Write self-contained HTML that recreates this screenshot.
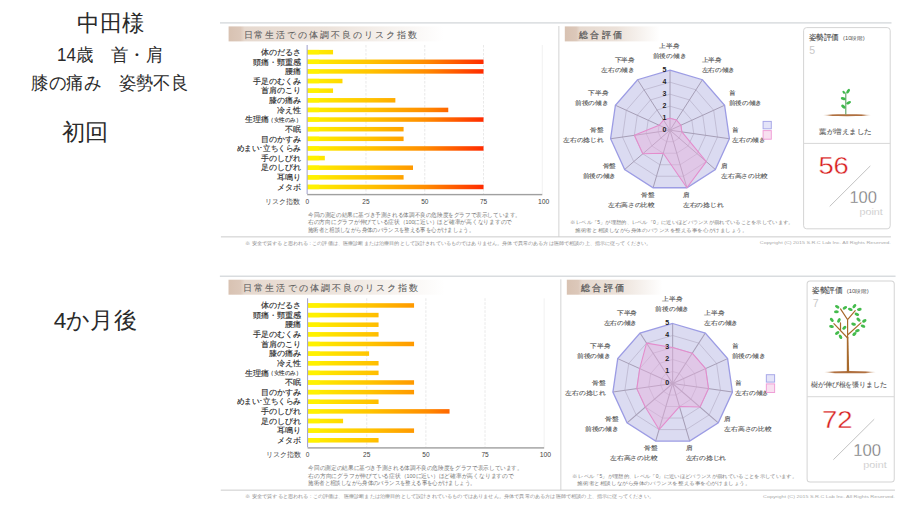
<!DOCTYPE html>
<html><head><meta charset="utf-8"><style>
html,body{margin:0;padding:0;background:#fff;}
body{width:920px;height:518px;overflow:hidden;font-family:"Liberation Sans", sans-serif;}
svg{display:block;font-family:"Liberation Sans", sans-serif;}
</style></head><body>
<svg width="920" height="518" viewBox="0 0 920 518">
<defs><linearGradient id="gr" x1="0" x2="1" y1="0" y2="0"><stop offset="0" stop-color="#b88050" stop-opacity="0"/><stop offset="0.2" stop-color="#b07040"/><stop offset="0.8" stop-color="#b07040"/><stop offset="1" stop-color="#b88050" stop-opacity="0"/></linearGradient><linearGradient id="bg1" gradientUnits="userSpaceOnUse" x1="307" y1="0" x2="484" y2="0">
<stop offset="0" stop-color="#fff200"/><stop offset="0.08" stop-color="#ffe800"/><stop offset="0.35" stop-color="#ffc400"/><stop offset="0.67" stop-color="#ff8c00"/><stop offset="1" stop-color="#ff2a00"/></linearGradient>
<linearGradient id="tg1" x1="0" y1="0" x2="1" y2="0"><stop offset="0" stop-color="#d8c2b2"/><stop offset="0.055" stop-color="#dcc8ba"/><stop offset="0.075" stop-color="#e6d9cf"/><stop offset="0.45" stop-color="#ece2da"/><stop offset="1" stop-color="#ffffff"/></linearGradient>
<linearGradient id="tg21" x1="0" y1="0" x2="1" y2="0"><stop offset="0" stop-color="#d8c2b2"/><stop offset="0.12" stop-color="#dcc8ba"/><stop offset="0.16" stop-color="#e6d9cf"/><stop offset="0.55" stop-color="#ece2da"/><stop offset="1" stop-color="#ffffff"/></linearGradient><linearGradient id="bg2" gradientUnits="userSpaceOnUse" x1="307" y1="0" x2="484" y2="0">
<stop offset="0" stop-color="#fff200"/><stop offset="0.08" stop-color="#ffe800"/><stop offset="0.35" stop-color="#ffc400"/><stop offset="0.67" stop-color="#ff8c00"/><stop offset="1" stop-color="#ff2a00"/></linearGradient>
<linearGradient id="tg2" x1="0" y1="0" x2="1" y2="0"><stop offset="0" stop-color="#d8c2b2"/><stop offset="0.055" stop-color="#dcc8ba"/><stop offset="0.075" stop-color="#e6d9cf"/><stop offset="0.45" stop-color="#ece2da"/><stop offset="1" stop-color="#ffffff"/></linearGradient>
<linearGradient id="tg22" x1="0" y1="0" x2="1" y2="0"><stop offset="0" stop-color="#d8c2b2"/><stop offset="0.12" stop-color="#dcc8ba"/><stop offset="0.16" stop-color="#e6d9cf"/><stop offset="0.55" stop-color="#ece2da"/><stop offset="1" stop-color="#ffffff"/></linearGradient></defs>
<rect width="920" height="518" fill="#fff"/>
<text x="111.00" y="31.00" font-size="22.6" fill="#2a2a2a" text-anchor="middle" textLength="67.5" lengthAdjust="spacingAndGlyphs">中田様</text><text x="110.00" y="61.20" font-size="17.6" fill="#2a2a2a" text-anchor="middle" textLength="106" lengthAdjust="spacingAndGlyphs">14歳　首・肩</text><text x="109.80" y="89.20" font-size="17.6" fill="#2a2a2a" text-anchor="middle" textLength="157" lengthAdjust="spacingAndGlyphs">膝の痛み　姿勢不良</text><text x="85.40" y="139.60" font-size="23" fill="#2a2a2a" text-anchor="middle" textLength="46.5" lengthAdjust="spacingAndGlyphs">初回</text><text x="95.20" y="328.30" font-size="22.5" fill="#2a2a2a" text-anchor="middle" textLength="83" lengthAdjust="spacingAndGlyphs">4か月後</text>
<g transform="translate(0.000,0) scale(1.0,1)">
<rect x="220" y="22.3" width="671.5" height="1.2" fill="#d0d4d8"/>
<rect x="228.6" y="26.4" width="215" height="15" fill="url(#tg1)"/>
<text x="243.50" y="37.90" font-size="8.7" fill="#5e5e5e" textLength="173" lengthAdjust="spacing" stroke="#5e5e5e" stroke-width="0.08">日常生活での体調不良のリスク指数</text>
<rect x="564.8" y="26.4" width="95" height="15" fill="url(#tg21)"/>
<text x="578.80" y="37.60" font-size="9.2" fill="#5a5a5a" textLength="43.2" lengthAdjust="spacing" stroke="#5a5a5a" stroke-width="0.25">総合評価</text>
<rect x="558.3" y="26" width="1.1" height="211" fill="#d8d8d8"/>
<line x1="365.97" y1="45" x2="365.97" y2="194" stroke="#e2e2e2" stroke-width="0.8" stroke-dasharray="2.5,1.5"/>
<line x1="424.75" y1="45" x2="424.75" y2="194" stroke="#e2e2e2" stroke-width="0.8" stroke-dasharray="2.5,1.5"/>
<line x1="483.52" y1="45" x2="483.52" y2="194" stroke="#e2e2e2" stroke-width="0.8" stroke-dasharray="2.5,1.5"/>
<line x1="542.30" y1="45" x2="542.30" y2="194" stroke="#eeeeee" stroke-width="0.8"/>
<rect x="307.2" y="49.90" width="25.86" height="4.5" fill="url(#bg1)"/>
<rect x="307.2" y="49.90" width="12.00" height="4.5" fill="#fff200" opacity="0.8"/>
<text x="300.70" y="54.90" font-size="8.3" fill="#262626" text-anchor="end" textLength="40" lengthAdjust="spacingAndGlyphs" stroke="#262626" stroke-width="0.12">体のだるさ</text>
<rect x="307.2" y="59.53" width="176.32" height="4.5" fill="url(#bg1)"/>
<rect x="307.2" y="59.53" width="12.00" height="4.5" fill="#fff200" opacity="0.8"/>
<text x="300.70" y="64.53" font-size="8.3" fill="#262626" text-anchor="end" textLength="48" lengthAdjust="spacingAndGlyphs" stroke="#262626" stroke-width="0.12">頭痛・頸重感</text>
<rect x="307.2" y="69.16" width="176.32" height="4.5" fill="url(#bg1)"/>
<rect x="307.2" y="69.16" width="12.00" height="4.5" fill="#fff200" opacity="0.8"/>
<text x="300.70" y="74.16" font-size="8.3" fill="#262626" text-anchor="end" textLength="16" lengthAdjust="spacingAndGlyphs" stroke="#262626" stroke-width="0.12">腰痛</text>
<rect x="307.2" y="78.79" width="35.27" height="4.5" fill="url(#bg1)"/>
<rect x="307.2" y="78.79" width="12.00" height="4.5" fill="#fff200" opacity="0.8"/>
<text x="300.70" y="83.79" font-size="8.3" fill="#262626" text-anchor="end" textLength="48" lengthAdjust="spacingAndGlyphs" stroke="#262626" stroke-width="0.12">手足のむくみ</text>
<rect x="307.2" y="88.42" width="25.86" height="4.5" fill="url(#bg1)"/>
<rect x="307.2" y="88.42" width="12.00" height="4.5" fill="#fff200" opacity="0.8"/>
<text x="300.70" y="93.42" font-size="8.3" fill="#262626" text-anchor="end" textLength="40" lengthAdjust="spacingAndGlyphs" stroke="#262626" stroke-width="0.12">首肩のこり</text>
<rect x="307.2" y="98.05" width="88.16" height="4.5" fill="url(#bg1)"/>
<rect x="307.2" y="98.05" width="12.00" height="4.5" fill="#fff200" opacity="0.8"/>
<text x="300.70" y="103.05" font-size="8.3" fill="#262626" text-anchor="end" textLength="32" lengthAdjust="spacingAndGlyphs" stroke="#262626" stroke-width="0.12">膝の痛み</text>
<rect x="307.2" y="107.68" width="141.06" height="4.5" fill="url(#bg1)"/>
<rect x="307.2" y="107.68" width="12.00" height="4.5" fill="#fff200" opacity="0.8"/>
<text x="300.70" y="112.68" font-size="8.3" fill="#262626" text-anchor="end" textLength="24" lengthAdjust="spacingAndGlyphs" stroke="#262626" stroke-width="0.12">冷え性</text>
<rect x="307.2" y="117.31" width="176.32" height="4.5" fill="url(#bg1)"/>
<rect x="307.2" y="117.31" width="12.00" height="4.5" fill="#fff200" opacity="0.8"/>
<text x="268.60" y="122.31" font-size="8.3" fill="#262626" text-anchor="end" textLength="24" lengthAdjust="spacingAndGlyphs" stroke="#262626" stroke-width="0.12">生理痛</text>
<text x="301.20" y="122.11" font-size="5.6" fill="#444" text-anchor="end" textLength="33" lengthAdjust="spacingAndGlyphs" stroke="#444" stroke-width="0.15">（女性のみ）</text>
<rect x="307.2" y="126.94" width="96.39" height="4.5" fill="url(#bg1)"/>
<rect x="307.2" y="126.94" width="12.00" height="4.5" fill="#fff200" opacity="0.8"/>
<text x="300.70" y="131.94" font-size="8.3" fill="#262626" text-anchor="end" textLength="16" lengthAdjust="spacingAndGlyphs" stroke="#262626" stroke-width="0.12">不眠</text>
<rect x="307.2" y="136.57" width="96.39" height="4.5" fill="url(#bg1)"/>
<rect x="307.2" y="136.57" width="12.00" height="4.5" fill="#fff200" opacity="0.8"/>
<text x="300.70" y="141.57" font-size="8.3" fill="#262626" text-anchor="end" textLength="40" lengthAdjust="spacingAndGlyphs" stroke="#262626" stroke-width="0.12">目のかすみ</text>
<rect x="307.2" y="146.20" width="176.32" height="4.5" fill="url(#bg1)"/>
<rect x="307.2" y="146.20" width="12.00" height="4.5" fill="#fff200" opacity="0.8"/>
<text x="300.70" y="151.20" font-size="8.3" fill="#262626" text-anchor="end" textLength="64" lengthAdjust="spacingAndGlyphs" stroke="#262626" stroke-width="0.12">めまい･立ちくらみ</text>
<rect x="307.2" y="155.83" width="17.63" height="4.5" fill="url(#bg1)"/>
<rect x="307.2" y="155.83" width="12.00" height="4.5" fill="#fff200" opacity="0.8"/>
<text x="300.70" y="160.83" font-size="8.3" fill="#262626" text-anchor="end" textLength="40" lengthAdjust="spacingAndGlyphs" stroke="#262626" stroke-width="0.12">手のしびれ</text>
<rect x="307.2" y="165.46" width="105.80" height="4.5" fill="url(#bg1)"/>
<rect x="307.2" y="165.46" width="12.00" height="4.5" fill="#fff200" opacity="0.8"/>
<text x="300.70" y="170.46" font-size="8.3" fill="#262626" text-anchor="end" textLength="40" lengthAdjust="spacingAndGlyphs" stroke="#262626" stroke-width="0.12">足のしびれ</text>
<rect x="307.2" y="175.09" width="96.39" height="4.5" fill="url(#bg1)"/>
<rect x="307.2" y="175.09" width="12.00" height="4.5" fill="#fff200" opacity="0.8"/>
<text x="300.70" y="180.09" font-size="8.3" fill="#262626" text-anchor="end" textLength="24" lengthAdjust="spacingAndGlyphs" stroke="#262626" stroke-width="0.12">耳鳴り</text>
<rect x="307.2" y="184.72" width="176.32" height="4.5" fill="url(#bg1)"/>
<rect x="307.2" y="184.72" width="12.00" height="4.5" fill="#fff200" opacity="0.8"/>
<text x="300.70" y="189.72" font-size="8.3" fill="#262626" text-anchor="end" textLength="24" lengthAdjust="spacingAndGlyphs" stroke="#262626" stroke-width="0.12">メタボ</text>
<rect x="306.59999999999997" y="45" width="1.1" height="149" fill="#a8a8d0"/>
<rect x="307.2" y="193.9" width="235.10" height="1.4" fill="#a0a0a0"/>
<text x="307.20" y="203.60" font-size="6.5" fill="#444" text-anchor="middle">0</text>
<text x="365.97" y="203.60" font-size="6.5" fill="#444" text-anchor="middle">25</text>
<text x="424.75" y="203.60" font-size="6.5" fill="#444" text-anchor="middle">50</text>
<text x="483.52" y="203.60" font-size="6.5" fill="#444" text-anchor="middle">75</text>
<text x="543.60" y="203.60" font-size="6.8" fill="#444" text-anchor="middle">100</text>
<text x="300.30" y="203.80" font-size="7" fill="#444" text-anchor="end">リスク指数</text>
<text x="308.00" y="216.60" font-size="5.6" fill="#777" textLength="213" lengthAdjust="spacingAndGlyphs">今回の測定の結果に基づき予測される体調不良の危険度をグラフで表示しています。</text>
<text x="308.00" y="224.40" font-size="5.6" fill="#777" textLength="204" lengthAdjust="spacingAndGlyphs">右の方向にグラフが伸びている症状（100に近い）ほど確率が高くなりますので</text>
<text x="308.00" y="232.20" font-size="5.6" fill="#777" textLength="166" lengthAdjust="spacingAndGlyphs">施術者と相談しながら身体のバランスを整える事を心がけましょう。</text>
<rect x="220.9" y="236.3" width="670" height="1.1" fill="#d0d0d0"/>
<text x="245.30" y="244.60" font-size="4.6" fill="#888" textLength="406" lengthAdjust="spacingAndGlyphs">※ 安全で質すると思われる : この評価は、医療診断または治療目的として設計されているものではありません。身体で異常のある方は医師で相談の上、指示に従ってください。</text>
<text x="890.80" y="244.40" font-size="4.4" fill="#aaa" text-anchor="end" textLength="131" lengthAdjust="spacingAndGlyphs">Copyright (C) 2015 S.R.C Lab Inc. All Rights Reserved.</text>
<polygon points="670.00,70.20 702.44,79.72 724.58,105.28 729.39,138.74 715.34,169.49 686.90,187.77 653.10,187.77 624.66,169.49 610.61,138.74 615.42,105.28 637.56,79.72" fill="#dbdbf1" stroke="none"/>
<polygon points="670.00,118.20 676.49,120.10 680.92,125.22 681.88,131.91 679.07,138.06 673.38,141.71 666.62,141.71 660.93,138.06 658.12,131.91 659.08,125.22 663.51,120.10" fill="none" stroke="#bdb8d0" stroke-width="0.85"/>
<polygon points="670.00,106.20 682.98,110.01 691.83,120.23 693.76,133.62 688.14,145.92 676.76,153.23 663.24,153.23 651.86,145.92 646.24,133.62 648.17,120.23 657.02,110.01" fill="none" stroke="#bdb8d0" stroke-width="0.85"/>
<polygon points="670.00,94.20 689.46,99.91 702.75,115.25 705.63,135.32 697.21,153.77 680.14,164.74 659.86,164.74 642.79,153.77 634.37,135.32 637.25,115.25 650.54,99.91" fill="none" stroke="#bdb8d0" stroke-width="0.85"/>
<polygon points="670.00,82.20 695.95,89.82 713.66,110.26 717.51,137.03 706.28,161.63 683.52,176.26 656.48,176.26 633.72,161.63 622.49,137.03 626.34,110.26 644.05,89.82" fill="none" stroke="#bdb8d0" stroke-width="0.85"/>
<line x1="670.0" y1="130.2" x2="670.00" y2="70.20" stroke="#a69eb6" stroke-width="1.0"/>
<line x1="670.0" y1="130.2" x2="702.44" y2="79.72" stroke="#a69eb6" stroke-width="1.0"/>
<line x1="670.0" y1="130.2" x2="724.58" y2="105.28" stroke="#a69eb6" stroke-width="1.0"/>
<line x1="670.0" y1="130.2" x2="729.39" y2="138.74" stroke="#a69eb6" stroke-width="1.0"/>
<line x1="670.0" y1="130.2" x2="715.34" y2="169.49" stroke="#a69eb6" stroke-width="1.0"/>
<line x1="670.0" y1="130.2" x2="686.90" y2="187.77" stroke="#a69eb6" stroke-width="1.0"/>
<line x1="670.0" y1="130.2" x2="653.10" y2="187.77" stroke="#a69eb6" stroke-width="1.0"/>
<line x1="670.0" y1="130.2" x2="624.66" y2="169.49" stroke="#a69eb6" stroke-width="1.0"/>
<line x1="670.0" y1="130.2" x2="610.61" y2="138.74" stroke="#a69eb6" stroke-width="1.0"/>
<line x1="670.0" y1="130.2" x2="615.42" y2="105.28" stroke="#a69eb6" stroke-width="1.0"/>
<line x1="670.0" y1="130.2" x2="637.56" y2="79.72" stroke="#a69eb6" stroke-width="1.0"/>
<polygon points="670.00,70.20 702.44,79.72 724.58,105.28 729.39,138.74 715.34,169.49 686.90,187.77 653.10,187.77 624.66,169.49 610.61,138.74 615.42,105.28 637.56,79.72" fill="none" stroke="#9c9ce4" stroke-width="1.3"/>
<polygon points="670.00,118.20 676.49,120.10 680.92,125.22 681.88,131.91 706.28,161.63 686.90,187.77 663.24,153.23 642.79,153.77 634.37,135.32 659.08,125.22 663.51,120.10" fill="#e6b0dc" fill-opacity="0.45" stroke="#e48ccc" stroke-width="1.05" stroke-linejoin="round"/>
<text x="666.50" y="131.90" font-size="7" fill="#222" text-anchor="end" font-weight="bold">0</text>
<text x="666.50" y="119.90" font-size="7" fill="#222" text-anchor="end" font-weight="bold">1</text>
<text x="666.50" y="107.90" font-size="7" fill="#222" text-anchor="end" font-weight="bold">2</text>
<text x="666.50" y="95.90" font-size="7" fill="#222" text-anchor="end" font-weight="bold">3</text>
<text x="666.50" y="83.90" font-size="7" fill="#222" text-anchor="end" font-weight="bold">4</text>
<text x="666.50" y="71.90" font-size="7" fill="#222" text-anchor="end" font-weight="bold">5</text>
<text x="669.50" y="48.10" font-size="6.4" fill="#555" text-anchor="middle" textLength="20.1" lengthAdjust="spacingAndGlyphs" stroke="#555" stroke-width="0.12">上半身</text>
<text x="669.50" y="57.90" font-size="6.4" fill="#555" text-anchor="middle" textLength="33.5" lengthAdjust="spacingAndGlyphs" stroke="#555" stroke-width="0.12">前後の傾き</text>
<text x="701.50" y="61.80" font-size="6.4" fill="#555" textLength="20.1" lengthAdjust="spacingAndGlyphs" stroke="#555" stroke-width="0.12">上半身</text>
<text x="701.50" y="71.60" font-size="6.4" fill="#555" textLength="33.5" lengthAdjust="spacingAndGlyphs" stroke="#555" stroke-width="0.12">左右の傾き</text>
<text x="728.70" y="95.00" font-size="6.4" fill="#555" textLength="6.7" lengthAdjust="spacingAndGlyphs" stroke="#555" stroke-width="0.12">首</text>
<text x="728.70" y="104.80" font-size="6.4" fill="#555" textLength="33.5" lengthAdjust="spacingAndGlyphs" stroke="#555" stroke-width="0.12">前後の傾き</text>
<text x="732.40" y="132.00" font-size="6.4" fill="#555" textLength="6.7" lengthAdjust="spacingAndGlyphs" stroke="#555" stroke-width="0.12">首</text>
<text x="732.40" y="141.80" font-size="6.4" fill="#555" textLength="33.5" lengthAdjust="spacingAndGlyphs" stroke="#555" stroke-width="0.12">左右の傾き</text>
<text x="721.30" y="168.20" font-size="6.4" fill="#555" textLength="6.7" lengthAdjust="spacingAndGlyphs" stroke="#555" stroke-width="0.12">肩</text>
<text x="721.30" y="178.00" font-size="6.4" fill="#555" textLength="46.9" lengthAdjust="spacingAndGlyphs" stroke="#555" stroke-width="0.12">左右高さの比較</text>
<text x="683.00" y="196.90" font-size="6.4" fill="#555" textLength="6.7" lengthAdjust="spacingAndGlyphs" stroke="#555" stroke-width="0.12">肩</text>
<text x="683.00" y="206.70" font-size="6.4" fill="#555" textLength="40.2" lengthAdjust="spacingAndGlyphs" stroke="#555" stroke-width="0.12">左右の捻じれ</text>
<text x="654.80" y="196.90" font-size="6.4" fill="#555" text-anchor="end" textLength="13.4" lengthAdjust="spacingAndGlyphs" stroke="#555" stroke-width="0.12">骨盤</text>
<text x="654.80" y="206.70" font-size="6.4" fill="#555" text-anchor="end" textLength="46.9" lengthAdjust="spacingAndGlyphs" stroke="#555" stroke-width="0.12">左右高さの比較</text>
<text x="616.20" y="168.20" font-size="6.4" fill="#555" text-anchor="end" textLength="13.4" lengthAdjust="spacingAndGlyphs" stroke="#555" stroke-width="0.12">骨盤</text>
<text x="616.20" y="178.00" font-size="6.4" fill="#555" text-anchor="end" textLength="33.5" lengthAdjust="spacingAndGlyphs" stroke="#555" stroke-width="0.12">前後の傾き</text>
<text x="603.50" y="132.00" font-size="6.4" fill="#555" text-anchor="end" textLength="13.4" lengthAdjust="spacingAndGlyphs" stroke="#555" stroke-width="0.12">骨盤</text>
<text x="603.50" y="141.80" font-size="6.4" fill="#555" text-anchor="end" textLength="40.2" lengthAdjust="spacingAndGlyphs" stroke="#555" stroke-width="0.12">左右の捻じれ</text>
<text x="608.40" y="95.00" font-size="6.4" fill="#555" text-anchor="end" textLength="20.1" lengthAdjust="spacingAndGlyphs" stroke="#555" stroke-width="0.12">下半身</text>
<text x="608.40" y="104.80" font-size="6.4" fill="#555" text-anchor="end" textLength="33.5" lengthAdjust="spacingAndGlyphs" stroke="#555" stroke-width="0.12">前後の傾き</text>
<text x="634.80" y="61.80" font-size="6.4" fill="#555" text-anchor="end" textLength="20.1" lengthAdjust="spacingAndGlyphs" stroke="#555" stroke-width="0.12">下半身</text>
<text x="634.80" y="71.60" font-size="6.4" fill="#555" text-anchor="end" textLength="33.5" lengthAdjust="spacingAndGlyphs" stroke="#555" stroke-width="0.12">左右の傾き</text>
<rect x="763.1" y="121.4" width="8.2" height="7.4" fill="#e4e4f8" stroke="#a8a8e8" stroke-width="1"/>
<rect x="763.1" y="130.6" width="8.2" height="8.6" fill="#f8e0f0" stroke="#f0a0d8" stroke-width="1"/>
<text x="569.50" y="224.30" font-size="4.7" fill="#777" textLength="224" lengthAdjust="spacingAndGlyphs">※ レベル「5」が理想的、レベル「0」に近いほどバランスが崩れていることを示しています。</text>
<text x="575.40" y="231.80" font-size="4.7" fill="#777" textLength="172" lengthAdjust="spacingAndGlyphs">施術者と相談しながら身体のバランスを整える事を心がけましょう。</text>
<rect x="803.6" y="27.6" width="86.6" height="201.2" rx="3" fill="#fff" stroke="#d4d4d4" stroke-width="1"/>
<rect x="803.6" y="142.9" width="86.6" height="1" fill="#d8d8d8"/>
<text x="808.60" y="40.00" font-size="7.6" fill="#444" textLength="30.5" lengthAdjust="spacingAndGlyphs" stroke="#444" stroke-width="0.08">姿勢評価</text>
<text x="843.00" y="39.60" font-size="5.2" fill="#555" textLength="21.8" lengthAdjust="spacingAndGlyphs">(10段階)</text>
<text x="809.30" y="53.60" font-size="10.5" fill="#c8c8c8">5</text>
<g><ellipse cx="847" cy="115.2" rx="24" ry="1.0" fill="url(#gr)"/><path d="M845.8 114.6 L845.8 92.5" stroke="#5aa060" stroke-width="1.1"/><ellipse cx="843.8" cy="92.2" rx="1.7" ry="1.1" transform="rotate(50 843.8 92.2)" fill="#3fb84c"/><ellipse cx="848.1" cy="91.2" rx="2.6" ry="1.4" transform="rotate(-55 848.1 91.2)" fill="#3fb84c"/><ellipse cx="843.3" cy="98.6" rx="2.6" ry="1.4" transform="rotate(15 843.3 98.6)" fill="#3fb84c"/><ellipse cx="848.6" cy="102.7" rx="2.6" ry="1.4" transform="rotate(-25 848.6 102.7)" fill="#3fb84c"/><ellipse cx="843.4" cy="106.6" rx="2.6" ry="1.5" transform="rotate(40 843.4 106.6)" fill="#3fb84c"/></g>
<text x="819.40" y="134.10" font-size="7.2" fill="#606060" textLength="52.3" lengthAdjust="spacingAndGlyphs" stroke="#606060" stroke-width="0.1">葉が増えました</text>
<text x="818.40" y="174.30" font-size="24.4" fill="#d81e1e" textLength="30.4" lengthAdjust="spacingAndGlyphs" stroke="#fff" stroke-width="0.35">56</text>
<line x1="829.7" y1="206.4" x2="870.3" y2="165.9" stroke="#bbbbbb" stroke-width="0.9"/>
<text x="849.40" y="202.60" font-size="15.6" fill="#737373" textLength="27.6" lengthAdjust="spacingAndGlyphs" stroke="#fff" stroke-width="0.3">100</text>
<text x="859.50" y="214.80" font-size="9.2" fill="#bdbdbd" textLength="23.3" lengthAdjust="spacingAndGlyphs" stroke="#fff" stroke-width="0.2">point</text>
</g>
<g transform="translate(-1.519,253.3) scale(1.00625,1)">
<rect x="220" y="22.3" width="671.5" height="1.2" fill="#d0d4d8"/>
<rect x="228.6" y="26.4" width="215" height="15" fill="url(#tg2)"/>
<text x="243.50" y="37.90" font-size="8.7" fill="#5e5e5e" textLength="173" lengthAdjust="spacing" stroke="#5e5e5e" stroke-width="0.08">日常生活での体調不良のリスク指数</text>
<rect x="564.8" y="26.4" width="95" height="15" fill="url(#tg22)"/>
<text x="578.80" y="37.60" font-size="9.2" fill="#5a5a5a" textLength="43.2" lengthAdjust="spacing" stroke="#5a5a5a" stroke-width="0.25">総合評価</text>
<rect x="558.3" y="26" width="1.1" height="211" fill="#d8d8d8"/>
<line x1="365.97" y1="45" x2="365.97" y2="194" stroke="#e2e2e2" stroke-width="0.8" stroke-dasharray="2.5,1.5"/>
<line x1="424.75" y1="45" x2="424.75" y2="194" stroke="#e2e2e2" stroke-width="0.8" stroke-dasharray="2.5,1.5"/>
<line x1="483.52" y1="45" x2="483.52" y2="194" stroke="#e2e2e2" stroke-width="0.8" stroke-dasharray="2.5,1.5"/>
<line x1="542.30" y1="45" x2="542.30" y2="194" stroke="#eeeeee" stroke-width="0.8"/>
<rect x="307.2" y="49.90" width="105.80" height="4.5" fill="url(#bg2)"/>
<rect x="307.2" y="49.90" width="12.00" height="4.5" fill="#fff200" opacity="0.8"/>
<text x="300.70" y="54.90" font-size="8.3" fill="#262626" text-anchor="end" textLength="40" lengthAdjust="spacingAndGlyphs" stroke="#262626" stroke-width="0.12">体のだるさ</text>
<rect x="307.2" y="59.53" width="70.53" height="4.5" fill="url(#bg2)"/>
<rect x="307.2" y="59.53" width="12.00" height="4.5" fill="#fff200" opacity="0.8"/>
<text x="300.70" y="64.53" font-size="8.3" fill="#262626" text-anchor="end" textLength="48" lengthAdjust="spacingAndGlyphs" stroke="#262626" stroke-width="0.12">頭痛・頸重感</text>
<rect x="307.2" y="69.16" width="70.53" height="4.5" fill="url(#bg2)"/>
<rect x="307.2" y="69.16" width="12.00" height="4.5" fill="#fff200" opacity="0.8"/>
<text x="300.70" y="74.16" font-size="8.3" fill="#262626" text-anchor="end" textLength="16" lengthAdjust="spacingAndGlyphs" stroke="#262626" stroke-width="0.12">腰痛</text>
<rect x="307.2" y="78.79" width="70.53" height="4.5" fill="url(#bg2)"/>
<rect x="307.2" y="78.79" width="12.00" height="4.5" fill="#fff200" opacity="0.8"/>
<text x="300.70" y="83.79" font-size="8.3" fill="#262626" text-anchor="end" textLength="48" lengthAdjust="spacingAndGlyphs" stroke="#262626" stroke-width="0.12">手足のむくみ</text>
<rect x="307.2" y="88.42" width="105.80" height="4.5" fill="url(#bg2)"/>
<rect x="307.2" y="88.42" width="12.00" height="4.5" fill="#fff200" opacity="0.8"/>
<text x="300.70" y="93.42" font-size="8.3" fill="#262626" text-anchor="end" textLength="40" lengthAdjust="spacingAndGlyphs" stroke="#262626" stroke-width="0.12">首肩のこり</text>
<rect x="307.2" y="98.05" width="61.13" height="4.5" fill="url(#bg2)"/>
<rect x="307.2" y="98.05" width="12.00" height="4.5" fill="#fff200" opacity="0.8"/>
<text x="300.70" y="103.05" font-size="8.3" fill="#262626" text-anchor="end" textLength="32" lengthAdjust="spacingAndGlyphs" stroke="#262626" stroke-width="0.12">膝の痛み</text>
<rect x="307.2" y="107.68" width="70.53" height="4.5" fill="url(#bg2)"/>
<rect x="307.2" y="107.68" width="12.00" height="4.5" fill="#fff200" opacity="0.8"/>
<text x="300.70" y="112.68" font-size="8.3" fill="#262626" text-anchor="end" textLength="24" lengthAdjust="spacingAndGlyphs" stroke="#262626" stroke-width="0.12">冷え性</text>
<rect x="307.2" y="117.31" width="70.53" height="4.5" fill="url(#bg2)"/>
<rect x="307.2" y="117.31" width="12.00" height="4.5" fill="#fff200" opacity="0.8"/>
<text x="268.60" y="122.31" font-size="8.3" fill="#262626" text-anchor="end" textLength="24" lengthAdjust="spacingAndGlyphs" stroke="#262626" stroke-width="0.12">生理痛</text>
<text x="301.20" y="122.11" font-size="5.6" fill="#444" text-anchor="end" textLength="33" lengthAdjust="spacingAndGlyphs" stroke="#444" stroke-width="0.15">（女性のみ）</text>
<rect x="307.2" y="126.94" width="105.80" height="4.5" fill="url(#bg2)"/>
<rect x="307.2" y="126.94" width="12.00" height="4.5" fill="#fff200" opacity="0.8"/>
<text x="300.70" y="131.94" font-size="8.3" fill="#262626" text-anchor="end" textLength="16" lengthAdjust="spacingAndGlyphs" stroke="#262626" stroke-width="0.12">不眠</text>
<rect x="307.2" y="136.57" width="105.80" height="4.5" fill="url(#bg2)"/>
<rect x="307.2" y="136.57" width="12.00" height="4.5" fill="#fff200" opacity="0.8"/>
<text x="300.70" y="141.57" font-size="8.3" fill="#262626" text-anchor="end" textLength="40" lengthAdjust="spacingAndGlyphs" stroke="#262626" stroke-width="0.12">目のかすみ</text>
<rect x="307.2" y="146.20" width="70.53" height="4.5" fill="url(#bg2)"/>
<rect x="307.2" y="146.20" width="12.00" height="4.5" fill="#fff200" opacity="0.8"/>
<text x="300.70" y="151.20" font-size="8.3" fill="#262626" text-anchor="end" textLength="64" lengthAdjust="spacingAndGlyphs" stroke="#262626" stroke-width="0.12">めまい･立ちくらみ</text>
<rect x="307.2" y="155.83" width="141.06" height="4.5" fill="url(#bg2)"/>
<rect x="307.2" y="155.83" width="12.00" height="4.5" fill="#fff200" opacity="0.8"/>
<text x="300.70" y="160.83" font-size="8.3" fill="#262626" text-anchor="end" textLength="40" lengthAdjust="spacingAndGlyphs" stroke="#262626" stroke-width="0.12">手のしびれ</text>
<rect x="307.2" y="165.46" width="35.27" height="4.5" fill="url(#bg2)"/>
<rect x="307.2" y="165.46" width="12.00" height="4.5" fill="#fff200" opacity="0.8"/>
<text x="300.70" y="170.46" font-size="8.3" fill="#262626" text-anchor="end" textLength="40" lengthAdjust="spacingAndGlyphs" stroke="#262626" stroke-width="0.12">足のしびれ</text>
<rect x="307.2" y="175.09" width="105.80" height="4.5" fill="url(#bg2)"/>
<rect x="307.2" y="175.09" width="12.00" height="4.5" fill="#fff200" opacity="0.8"/>
<text x="300.70" y="180.09" font-size="8.3" fill="#262626" text-anchor="end" textLength="24" lengthAdjust="spacingAndGlyphs" stroke="#262626" stroke-width="0.12">耳鳴り</text>
<rect x="307.2" y="184.72" width="70.53" height="4.5" fill="url(#bg2)"/>
<rect x="307.2" y="184.72" width="12.00" height="4.5" fill="#fff200" opacity="0.8"/>
<text x="300.70" y="189.72" font-size="8.3" fill="#262626" text-anchor="end" textLength="24" lengthAdjust="spacingAndGlyphs" stroke="#262626" stroke-width="0.12">メタボ</text>
<rect x="306.59999999999997" y="45" width="1.1" height="149" fill="#a8a8d0"/>
<rect x="307.2" y="193.9" width="235.10" height="1.4" fill="#a0a0a0"/>
<text x="307.20" y="203.60" font-size="6.5" fill="#444" text-anchor="middle">0</text>
<text x="365.97" y="203.60" font-size="6.5" fill="#444" text-anchor="middle">25</text>
<text x="424.75" y="203.60" font-size="6.5" fill="#444" text-anchor="middle">50</text>
<text x="483.52" y="203.60" font-size="6.5" fill="#444" text-anchor="middle">75</text>
<text x="543.60" y="203.60" font-size="6.8" fill="#444" text-anchor="middle">100</text>
<text x="300.30" y="203.80" font-size="7" fill="#444" text-anchor="end">リスク指数</text>
<text x="308.00" y="216.60" font-size="5.6" fill="#777" textLength="213" lengthAdjust="spacingAndGlyphs">今回の測定の結果に基づき予測される体調不良の危険度をグラフで表示しています。</text>
<text x="308.00" y="224.40" font-size="5.6" fill="#777" textLength="204" lengthAdjust="spacingAndGlyphs">右の方向にグラフが伸びている症状（100に近い）ほど確率が高くなりますので</text>
<text x="308.00" y="232.20" font-size="5.6" fill="#777" textLength="166" lengthAdjust="spacingAndGlyphs">施術者と相談しながら身体のバランスを整える事を心がけましょう。</text>
<rect x="220.9" y="236.3" width="670" height="1.1" fill="#d0d0d0"/>
<text x="245.30" y="244.60" font-size="4.6" fill="#888" textLength="406" lengthAdjust="spacingAndGlyphs">※ 安全で質すると思われる : この評価は、医療診断または治療目的として設計されているものではありません。身体で異常のある方は医師で相談の上、指示に従ってください。</text>
<text x="890.80" y="244.40" font-size="4.4" fill="#aaa" text-anchor="end" textLength="131" lengthAdjust="spacingAndGlyphs">Copyright (C) 2015 S.R.C Lab Inc. All Rights Reserved.</text>
<polygon points="670.00,70.20 702.44,79.72 724.58,105.28 729.39,138.74 715.34,169.49 686.90,187.77 653.10,187.77 624.66,169.49 610.61,138.74 615.42,105.28 637.56,79.72" fill="#dbdbf1" stroke="none"/>
<polygon points="670.00,118.20 676.49,120.10 680.92,125.22 681.88,131.91 679.07,138.06 673.38,141.71 666.62,141.71 660.93,138.06 658.12,131.91 659.08,125.22 663.51,120.10" fill="none" stroke="#bdb8d0" stroke-width="0.85"/>
<polygon points="670.00,106.20 682.98,110.01 691.83,120.23 693.76,133.62 688.14,145.92 676.76,153.23 663.24,153.23 651.86,145.92 646.24,133.62 648.17,120.23 657.02,110.01" fill="none" stroke="#bdb8d0" stroke-width="0.85"/>
<polygon points="670.00,94.20 689.46,99.91 702.75,115.25 705.63,135.32 697.21,153.77 680.14,164.74 659.86,164.74 642.79,153.77 634.37,135.32 637.25,115.25 650.54,99.91" fill="none" stroke="#bdb8d0" stroke-width="0.85"/>
<polygon points="670.00,82.20 695.95,89.82 713.66,110.26 717.51,137.03 706.28,161.63 683.52,176.26 656.48,176.26 633.72,161.63 622.49,137.03 626.34,110.26 644.05,89.82" fill="none" stroke="#bdb8d0" stroke-width="0.85"/>
<line x1="670.0" y1="130.2" x2="670.00" y2="70.20" stroke="#a69eb6" stroke-width="1.0"/>
<line x1="670.0" y1="130.2" x2="702.44" y2="79.72" stroke="#a69eb6" stroke-width="1.0"/>
<line x1="670.0" y1="130.2" x2="724.58" y2="105.28" stroke="#a69eb6" stroke-width="1.0"/>
<line x1="670.0" y1="130.2" x2="729.39" y2="138.74" stroke="#a69eb6" stroke-width="1.0"/>
<line x1="670.0" y1="130.2" x2="715.34" y2="169.49" stroke="#a69eb6" stroke-width="1.0"/>
<line x1="670.0" y1="130.2" x2="686.90" y2="187.77" stroke="#a69eb6" stroke-width="1.0"/>
<line x1="670.0" y1="130.2" x2="653.10" y2="187.77" stroke="#a69eb6" stroke-width="1.0"/>
<line x1="670.0" y1="130.2" x2="624.66" y2="169.49" stroke="#a69eb6" stroke-width="1.0"/>
<line x1="670.0" y1="130.2" x2="610.61" y2="138.74" stroke="#a69eb6" stroke-width="1.0"/>
<line x1="670.0" y1="130.2" x2="615.42" y2="105.28" stroke="#a69eb6" stroke-width="1.0"/>
<line x1="670.0" y1="130.2" x2="637.56" y2="79.72" stroke="#a69eb6" stroke-width="1.0"/>
<polygon points="670.00,70.20 702.44,79.72 724.58,105.28 729.39,138.74 715.34,169.49 686.90,187.77 653.10,187.77 624.66,169.49 610.61,138.74 615.42,105.28 637.56,79.72" fill="none" stroke="#9c9ce4" stroke-width="1.3"/>
<polygon points="670.00,94.20 689.46,99.91 702.75,115.25 705.63,135.32 697.21,153.77 676.76,153.23 656.48,176.26 642.79,153.77 634.37,135.32 637.25,115.25 644.05,89.82" fill="#e6b0dc" fill-opacity="0.45" stroke="#e48ccc" stroke-width="1.05" stroke-linejoin="round"/>
<text x="666.50" y="131.90" font-size="7" fill="#222" text-anchor="end" font-weight="bold">0</text>
<text x="666.50" y="119.90" font-size="7" fill="#222" text-anchor="end" font-weight="bold">1</text>
<text x="666.50" y="107.90" font-size="7" fill="#222" text-anchor="end" font-weight="bold">2</text>
<text x="666.50" y="95.90" font-size="7" fill="#222" text-anchor="end" font-weight="bold">3</text>
<text x="666.50" y="83.90" font-size="7" fill="#222" text-anchor="end" font-weight="bold">4</text>
<text x="666.50" y="71.90" font-size="7" fill="#222" text-anchor="end" font-weight="bold">5</text>
<text x="669.50" y="48.10" font-size="6.4" fill="#555" text-anchor="middle" textLength="20.1" lengthAdjust="spacingAndGlyphs" stroke="#555" stroke-width="0.12">上半身</text>
<text x="669.50" y="57.90" font-size="6.4" fill="#555" text-anchor="middle" textLength="33.5" lengthAdjust="spacingAndGlyphs" stroke="#555" stroke-width="0.12">前後の傾き</text>
<text x="701.50" y="61.80" font-size="6.4" fill="#555" textLength="20.1" lengthAdjust="spacingAndGlyphs" stroke="#555" stroke-width="0.12">上半身</text>
<text x="701.50" y="71.60" font-size="6.4" fill="#555" textLength="33.5" lengthAdjust="spacingAndGlyphs" stroke="#555" stroke-width="0.12">左右の傾き</text>
<text x="728.70" y="95.00" font-size="6.4" fill="#555" textLength="6.7" lengthAdjust="spacingAndGlyphs" stroke="#555" stroke-width="0.12">首</text>
<text x="728.70" y="104.80" font-size="6.4" fill="#555" textLength="33.5" lengthAdjust="spacingAndGlyphs" stroke="#555" stroke-width="0.12">前後の傾き</text>
<text x="732.40" y="132.00" font-size="6.4" fill="#555" textLength="6.7" lengthAdjust="spacingAndGlyphs" stroke="#555" stroke-width="0.12">首</text>
<text x="732.40" y="141.80" font-size="6.4" fill="#555" textLength="33.5" lengthAdjust="spacingAndGlyphs" stroke="#555" stroke-width="0.12">左右の傾き</text>
<text x="721.30" y="168.20" font-size="6.4" fill="#555" textLength="6.7" lengthAdjust="spacingAndGlyphs" stroke="#555" stroke-width="0.12">肩</text>
<text x="721.30" y="178.00" font-size="6.4" fill="#555" textLength="46.9" lengthAdjust="spacingAndGlyphs" stroke="#555" stroke-width="0.12">左右高さの比較</text>
<text x="683.00" y="196.90" font-size="6.4" fill="#555" textLength="6.7" lengthAdjust="spacingAndGlyphs" stroke="#555" stroke-width="0.12">肩</text>
<text x="683.00" y="206.70" font-size="6.4" fill="#555" textLength="40.2" lengthAdjust="spacingAndGlyphs" stroke="#555" stroke-width="0.12">左右の捻じれ</text>
<text x="654.80" y="196.90" font-size="6.4" fill="#555" text-anchor="end" textLength="13.4" lengthAdjust="spacingAndGlyphs" stroke="#555" stroke-width="0.12">骨盤</text>
<text x="654.80" y="206.70" font-size="6.4" fill="#555" text-anchor="end" textLength="46.9" lengthAdjust="spacingAndGlyphs" stroke="#555" stroke-width="0.12">左右高さの比較</text>
<text x="616.20" y="168.20" font-size="6.4" fill="#555" text-anchor="end" textLength="13.4" lengthAdjust="spacingAndGlyphs" stroke="#555" stroke-width="0.12">骨盤</text>
<text x="616.20" y="178.00" font-size="6.4" fill="#555" text-anchor="end" textLength="33.5" lengthAdjust="spacingAndGlyphs" stroke="#555" stroke-width="0.12">前後の傾き</text>
<text x="603.50" y="132.00" font-size="6.4" fill="#555" text-anchor="end" textLength="13.4" lengthAdjust="spacingAndGlyphs" stroke="#555" stroke-width="0.12">骨盤</text>
<text x="603.50" y="141.80" font-size="6.4" fill="#555" text-anchor="end" textLength="40.2" lengthAdjust="spacingAndGlyphs" stroke="#555" stroke-width="0.12">左右の捻じれ</text>
<text x="608.40" y="95.00" font-size="6.4" fill="#555" text-anchor="end" textLength="20.1" lengthAdjust="spacingAndGlyphs" stroke="#555" stroke-width="0.12">下半身</text>
<text x="608.40" y="104.80" font-size="6.4" fill="#555" text-anchor="end" textLength="33.5" lengthAdjust="spacingAndGlyphs" stroke="#555" stroke-width="0.12">前後の傾き</text>
<text x="634.80" y="61.80" font-size="6.4" fill="#555" text-anchor="end" textLength="20.1" lengthAdjust="spacingAndGlyphs" stroke="#555" stroke-width="0.12">下半身</text>
<text x="634.80" y="71.60" font-size="6.4" fill="#555" text-anchor="end" textLength="33.5" lengthAdjust="spacingAndGlyphs" stroke="#555" stroke-width="0.12">左右の傾き</text>
<rect x="763.1" y="121.4" width="8.2" height="7.4" fill="#e4e4f8" stroke="#a8a8e8" stroke-width="1"/>
<rect x="763.1" y="130.6" width="8.2" height="8.6" fill="#f8e0f0" stroke="#f0a0d8" stroke-width="1"/>
<text x="569.50" y="224.30" font-size="4.7" fill="#777" textLength="224" lengthAdjust="spacingAndGlyphs">※ レベル「5」が理想的、レベル「0」に近いほどバランスが崩れていることを示しています。</text>
<text x="575.40" y="231.80" font-size="4.7" fill="#777" textLength="172" lengthAdjust="spacingAndGlyphs">施術者と相談しながら身体のバランスを整える事を心がけましょう。</text>
<rect x="803.6" y="27.6" width="86.6" height="201.2" rx="3" fill="#fff" stroke="#d4d4d4" stroke-width="1"/>
<rect x="803.6" y="142.9" width="86.6" height="1" fill="#d8d8d8"/>
<text x="808.60" y="40.00" font-size="7.6" fill="#444" textLength="30.5" lengthAdjust="spacingAndGlyphs" stroke="#444" stroke-width="0.08">姿勢評価</text>
<text x="843.00" y="39.60" font-size="5.2" fill="#555" textLength="21.8" lengthAdjust="spacingAndGlyphs">(10段階)</text>
<text x="809.30" y="53.60" font-size="10.5" fill="#c8c8c8">7</text>
<g transform="scale(0.993789,1) translate(1.518750,-253.3)"><g><ellipse cx="850" cy="372.2" rx="26" ry="1.1" fill="url(#gr)"/><path d="M846.8 372.5 L849.2 372.5 L848.4 337 L846.8 337 Z" fill="#a86a2c"/><path d="M847.6 338 L833.9 323.7 M840.5 330.8 L840.5 322.9 M847.6 338 L847.6 319.6 L840.5 308.9 M847.6 319.6 L855.2 310.6 M847.6 335 L861 322.9" stroke="#a86a2c" stroke-width="1.2" fill="none" stroke-linecap="round"/><ellipse cx="837.2" cy="306.8" rx="2.4" ry="1.5" transform="rotate(30 837.2 306.8)" fill="#44bb4c"/><ellipse cx="844.9" cy="307.8" rx="2.4" ry="1.5" transform="rotate(-30 844.9 307.8)" fill="#44bb4c"/><ellipse cx="836.4" cy="311.7" rx="2.4" ry="1.5" transform="rotate(0 836.4 311.7)" fill="#44bb4c"/><ellipse cx="850.3" cy="309.4" rx="2.4" ry="1.5" transform="rotate(20 850.3 309.4)" fill="#44bb4c"/><ellipse cx="854.4" cy="306.1" rx="2.4" ry="1.5" transform="rotate(-50 854.4 306.1)" fill="#44bb4c"/><ellipse cx="859.3" cy="309.4" rx="2.4" ry="1.5" transform="rotate(-10 859.3 309.4)" fill="#44bb4c"/><ellipse cx="856.9" cy="314.3" rx="2.4" ry="1.5" transform="rotate(20 856.9 314.3)" fill="#44bb4c"/><ellipse cx="831.8" cy="319.9" rx="2.4" ry="1.5" transform="rotate(50 831.8 319.9)" fill="#44bb4c"/><ellipse cx="838.9" cy="320.4" rx="2.4" ry="1.5" transform="rotate(-60 838.9 320.4)" fill="#44bb4c"/><ellipse cx="831.5" cy="326.5" rx="2.4" ry="1.5" transform="rotate(10 831.5 326.5)" fill="#44bb4c"/><ellipse cx="844.3" cy="327.8" rx="2.4" ry="1.5" transform="rotate(-40 844.3 327.8)" fill="#44bb4c"/><ellipse cx="837.2" cy="333" rx="2.4" ry="1.5" transform="rotate(-30 837.2 333)" fill="#44bb4c"/><ellipse cx="840.5" cy="336.8" rx="2.4" ry="1.5" transform="rotate(60 840.5 336.8)" fill="#44bb4c"/><ellipse cx="858.5" cy="319.6" rx="2.4" ry="1.5" transform="rotate(40 858.5 319.6)" fill="#44bb4c"/><ellipse cx="864.3" cy="320.9" rx="2.4" ry="1.5" transform="rotate(-30 864.3 320.9)" fill="#44bb4c"/><ellipse cx="853.6" cy="324.2" rx="2.4" ry="1.5" transform="rotate(15 853.6 324.2)" fill="#44bb4c"/><ellipse cx="863" cy="326.1" rx="2.4" ry="1.5" transform="rotate(20 863 326.1)" fill="#44bb4c"/><ellipse cx="857.4" cy="330.7" rx="2.4" ry="1.5" transform="rotate(-20 857.4 330.7)" fill="#44bb4c"/><ellipse cx="854.4" cy="334" rx="2.4" ry="1.5" transform="rotate(-40 854.4 334)" fill="#44bb4c"/></g></g>
<text x="807.40" y="134.10" font-size="7.2" fill="#606060" textLength="75.5" lengthAdjust="spacingAndGlyphs" stroke="#606060" stroke-width="0.1">樹が伸び根を張りました</text>
<text x="818.40" y="174.30" font-size="24.4" fill="#d81e1e" textLength="30.4" lengthAdjust="spacingAndGlyphs" stroke="#fff" stroke-width="0.35">72</text>
<line x1="829.7" y1="206.4" x2="870.3" y2="165.9" stroke="#bbbbbb" stroke-width="0.9"/>
<text x="849.40" y="202.60" font-size="15.6" fill="#737373" textLength="27.6" lengthAdjust="spacingAndGlyphs" stroke="#fff" stroke-width="0.3">100</text>
<text x="859.50" y="214.80" font-size="9.2" fill="#bdbdbd" textLength="23.3" lengthAdjust="spacingAndGlyphs" stroke="#fff" stroke-width="0.2">point</text>
</g>
</svg></body></html>
